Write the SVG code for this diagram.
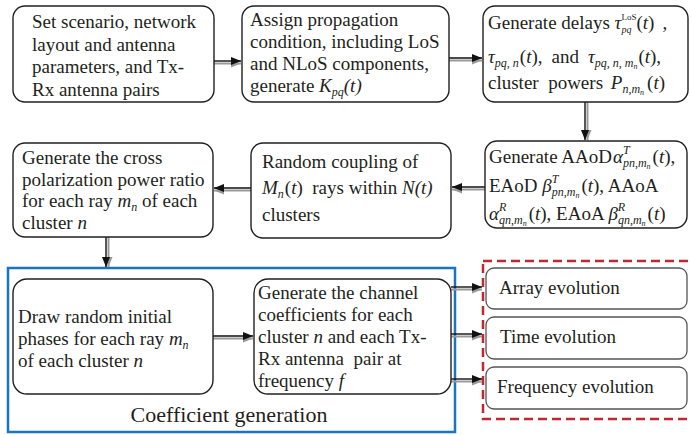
<svg xmlns="http://www.w3.org/2000/svg" width="691" height="435" viewBox="0 0 691 435" font-family="'Liberation Serif', 'Times New Roman', serif" font-size="19">
<style>
  .box{fill:#fff;stroke:#231f20;stroke-width:1.4}
  .evo{fill:#fff;stroke:#555;stroke-width:1.3}
  text, tspan{font-family:"Liberation Serif","Times New Roman",serif}
  text{font-size:19px;fill:#231f20;white-space:pre}
  .big{font-size:22px}
  .i{font-style:italic}
  .s{font-size:12px}
  .ss{font-size:8px}
  .sup{font-size:9px}
  .ln{stroke:#111;stroke-width:1.4;fill:none;marker-end:url(#hb)}
  .lg{stroke:#9a9a9a;stroke-width:2;fill:none;marker-end:url(#hg)}
</style>
<defs>
  <marker id="hb" markerUnits="userSpaceOnUse" markerWidth="12" markerHeight="10" refX="10" refY="4" orient="auto"><path d="M0,0 L10,4 L0,8 Z" fill="#111"/></marker>
  <marker id="hg" markerUnits="userSpaceOnUse" markerWidth="12" markerHeight="10" refX="10" refY="4" orient="auto"><path d="M0,0 L10,4 L0,8 Z" fill="#9a9a9a"/></marker>
</defs>

<g id="coefficient-generation-frame">
  <rect x="8" y="268" width="447" height="164" fill="none" stroke="#1b75bc" stroke-width="2.5"/>
  <text class="big" x="229" y="422" text-anchor="middle">Coefficient generation</text>
</g>
<g id="evolution-frame">
  <rect x="483" y="261" width="212" height="158" fill="none" stroke="#c1272d" stroke-width="2.5" stroke-dasharray="9 5"/>
</g>

<g id="connectors">
  <path class="lg" d="M214,63.5 H241"/><path class="ln" d="M214,61 H241"/>
  <path class="lg" d="M449,60.5 H482"/><path class="ln" d="M449,58 H482"/>
  <path class="lg" d="M587.5,102 V140"/><path class="ln" d="M585,102 V140"/>
  <path class="lg" d="M485,189.5 H452"/><path class="ln" d="M485,187 H452"/>
  <path class="lg" d="M251,190.5 H214"/><path class="ln" d="M251,188 H214"/>
  <path class="lg" d="M108.5,237 V267"/><path class="ln" d="M106,237 V267"/>
  <path class="lg" d="M213,338.5 H253"/><path class="ln" d="M213,336 H253"/>
  <path class="lg" d="M451,289.5 H482"/><path class="ln" d="M451,287 H482"/>
  <path class="lg" d="M451,336.5 H482"/><path class="ln" d="M451,334 H482"/>
  <path class="lg" d="M451,381.5 H482"/><path class="ln" d="M451,379 H482"/>
</g>

<g id="n1">
  <rect class="box" x="13" y="6" width="201" height="96" rx="12"/>
  <text x="32" y="28">Set scenario, network</text>
  <text x="32" y="50.5">layout and antenna</text>
  <text x="32" y="73">parameters, and Tx-</text>
  <text x="32" y="95.5">Rx antenna pairs</text>
</g>

<g id="n2">
  <rect class="box" x="242" y="6" width="207" height="96" rx="12"/>
  <text x="250" y="26">Assign propagation</text>
  <text x="250" y="48">condition, including LoS</text>
  <text x="250" y="70">and NLoS components,</text>
  <text x="250" y="92">generate <tspan class="i">K</tspan><tspan class="s i" dy="4">pq</tspan><tspan class="i" dy="-4">(t)</tspan></text>
</g>

<g id="n3">
  <rect class="box" x="483" y="6" width="205" height="96" rx="12"/>
  <text x="488" y="29">Generate delays <tspan class="i">τ</tspan><tspan class="sup" dy="-9">LoS</tspan><tspan class="i" style="font-size:10px" dx="-15" dy="13">pq</tspan><tspan dx="5" dy="-4">(<tspan class="i">t</tspan>)</tspan><tspan dx="8">,</tspan></text>
  <text x="488" y="63"><tspan class="i">τ</tspan><tspan class="s" dy="4"><tspan class="i">pq</tspan>, <tspan class="i">n</tspan></tspan><tspan dx="1" dy="-4">(<tspan class="i">t</tspan>),</tspan><tspan dx="9">and</tspan><tspan class="i" dx="9">τ</tspan><tspan class="s" dy="4"><tspan class="i">pq</tspan>, <tspan class="i">n</tspan>, <tspan class="i">m</tspan></tspan><tspan class="ss i" dy="2">n</tspan><tspan dx="1" dy="-6">(<tspan class="i">t</tspan>),</tspan></text>
  <text x="488" y="89">cluster  powers <tspan class="i" dx="3">P</tspan><tspan class="s" dy="4"><tspan class="i">n</tspan>,<tspan class="i">m</tspan></tspan><tspan class="ss i" dy="2">n</tspan><tspan dx="3" dy="-6">(<tspan class="i">t</tspan>)</tspan></text>
</g>

<g id="n4">
  <rect class="box" x="485" y="141" width="202" height="87" rx="12"/>
  <text x="489" y="163">Generate AAoD<tspan class="i" dx="1">α</tspan><tspan class="s i" dy="-9">T</tspan><tspan class="s" dx="-6.7" dy="13"><tspan class="i">pn</tspan>,<tspan class="i">m</tspan></tspan><tspan class="ss i" dy="2">n</tspan><tspan dx="2" dy="-6">(<tspan class="i">t</tspan>),</tspan></text>
  <text x="489" y="192">EAoD <tspan class="i">β</tspan><tspan class="s i" dy="-9">T</tspan><tspan class="s" dx="-6.7" dy="13"><tspan class="i">pn</tspan>,<tspan class="i">m</tspan></tspan><tspan class="ss i" dy="2">n</tspan><tspan dx="2" dy="-6">(<tspan class="i">t</tspan>), AAoA</tspan></text>
  <text x="489" y="220"><tspan class="i">α</tspan><tspan class="s i" dy="-9">R</tspan><tspan class="s" dx="-7.3" dy="13"><tspan class="i">qn</tspan>,<tspan class="i">m</tspan></tspan><tspan class="ss i" dy="2">n</tspan><tspan dx="2" dy="-6">(<tspan class="i">t</tspan>), EAoA </tspan><tspan class="i">β</tspan><tspan class="s i" dy="-9">R</tspan><tspan class="s" dx="-7.3" dy="13"><tspan class="i">qn</tspan>,<tspan class="i">m</tspan></tspan><tspan class="ss i" dy="2">n</tspan><tspan dx="2" dy="-6">(<tspan class="i">t</tspan>)</tspan></text>
</g>

<g id="n5">
  <rect class="box" x="251" y="143" width="200" height="95" rx="12"/>
  <text x="262" y="168">Random coupling of</text>
  <text x="262" y="194"><tspan class="i">M</tspan><tspan class="s i" dy="4">n</tspan><tspan dx="1" dy="-4">(<tspan class="i">t</tspan>)  rays within </tspan><tspan class="i">N(t)</tspan></text>
  <text x="262" y="221">clusters</text>
</g>

<g id="n6">
  <rect class="box" x="13" y="143" width="200" height="94" rx="12"/>
  <text x="22" y="164">Generate the cross</text>
  <text x="22" y="185.5">polarization power ratio</text>
  <text x="22" y="207">for each ray <tspan class="i">m</tspan><tspan class="s i" dy="4">n</tspan><tspan dy="-4"> of each</tspan></text>
  <text x="22" y="228.5">cluster <tspan class="i">n</tspan></text>
</g>

<g id="n7">
  <rect class="box" x="13" y="279" width="200" height="115" rx="14"/>
  <text x="18" y="323">Draw random initial</text>
  <text x="18" y="345">phases for each ray <tspan class="i">m</tspan><tspan class="s i" dy="4">n</tspan></text>
  <text x="18" y="367">of each cluster <tspan class="i">n</tspan></text>
</g>

<g id="n8">
  <rect class="box" x="254" y="279" width="197" height="115" rx="14"/>
  <text x="258" y="299">Generate the channel</text>
  <text x="258" y="321">coefficients for each</text>
  <text x="258" y="343">cluster <tspan class="i">n</tspan> and each Tx-</text>
  <text x="258" y="365">Rx antenna  pair at</text>
  <text x="258" y="387">frequency <tspan class="i">f</tspan></text>
</g>

<g id="e1">
  <rect class="evo" x="486" y="268" width="201" height="41" rx="8"/>
  <text x="499" y="294">Array evolution</text>
</g>
<g id="e2">
  <rect class="evo" x="486" y="317" width="201" height="42" rx="8"/>
  <text x="500" y="343">Time evolution</text>
</g>
<g id="e3">
  <rect class="evo" x="486" y="367" width="201" height="42" rx="8"/>
  <text x="497" y="393">Frequency evolution</text>
</g>
</svg>
